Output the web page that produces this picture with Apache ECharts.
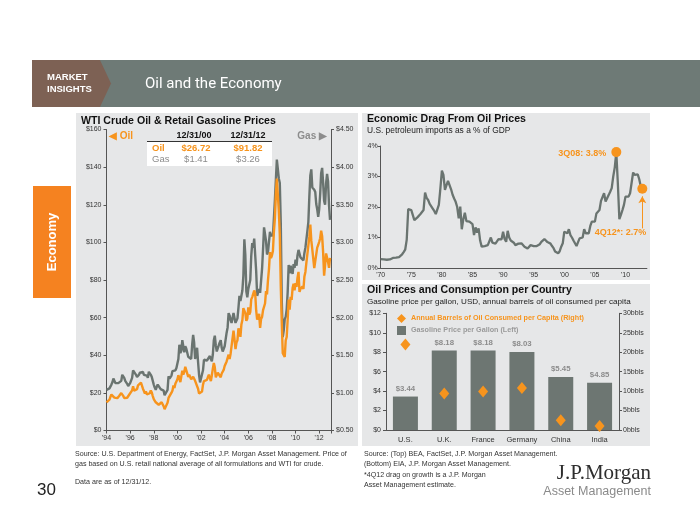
<!DOCTYPE html>
<html><head><meta charset="utf-8">
<script src="https://cdn.jsdelivr.net/npm/echarts/dist/echarts.min.js"></script>
<style>html,body{margin:0;padding:0;background:#fff;}#c{width:700px;height:525px;}</style>
</head><body><div id="c"></div>
<script>
// ---------- DATA ----------
const oilStartYear = 1994; // monthly series start (Jan 1994)
const wtiOil = [
15.0,14.8,14.7,16.4,17.9,19.1,19.7,18.4,17.5,17.7,18.1,17.2,
18.0,18.5,18.6,19.9,19.7,18.4,17.3,17.9,18.0,17.4,18.0,19.0,
18.9,19.1,21.3,23.5,21.2,20.4,21.3,22.0,24.0,24.9,23.7,25.4,
25.2,22.2,21.0,19.7,20.8,19.2,19.6,19.9,19.8,21.3,20.2,18.3,
16.7,16.1,15.0,15.4,14.9,13.7,14.2,13.4,15.0,14.4,12.9,11.3,
12.5,12.0,14.7,17.3,17.8,17.9,20.1,21.3,23.9,22.6,25.0,26.1,
27.2,29.4,29.9,25.7,28.8,31.8,29.7,31.3,33.9,33.1,34.4,28.5,
29.6,29.6,27.2,27.4,28.6,27.6,26.4,27.4,26.2,22.2,19.6,19.3,
19.7,20.7,24.4,26.3,27.0,25.5,26.9,28.4,29.7,28.9,26.3,29.4,
32.9,35.9,33.6,28.3,28.1,30.7,30.8,31.6,28.3,30.3,31.1,32.2,
34.3,34.7,36.7,36.7,40.3,38.0,40.7,44.9,45.9,53.1,48.5,43.3,
46.8,48.0,54.3,53.0,49.8,56.3,58.7,65.0,65.6,62.4,58.3,59.4,
65.5,61.6,62.9,69.7,70.9,70.9,74.4,73.0,63.8,58.9,59.1,62.0,
54.5,59.3,60.4,64.0,63.5,67.5,74.1,72.4,79.9,85.8,94.8,91.7,
93.0,95.4,105.5,112.6,125.4,133.9,133.4,116.7,104.1,76.6,57.3,41.1,
41.7,39.1,47.9,49.7,59.0,69.6,64.2,71.1,69.4,75.7,78.0,74.5,
78.3,76.4,81.2,84.3,73.7,75.3,76.3,76.6,75.2,81.9,84.3,89.2,
89.2,88.6,102.9,109.5,100.9,96.3,97.3,86.3,85.5,86.3,97.2,98.6,
100.3,102.2,106.2,103.3,94.7,82.3,87.9,94.1,94.5,89.5,86.5,91.8
];
const retailGas = [
1.04,1.03,1.03,1.06,1.08,1.11,1.14,1.19,1.16,1.13,1.14,1.12,
1.13,1.12,1.12,1.16,1.24,1.25,1.20,1.16,1.14,1.12,1.09,1.10,
1.13,1.14,1.20,1.30,1.32,1.28,1.24,1.21,1.22,1.24,1.27,1.28,
1.29,1.28,1.24,1.23,1.23,1.23,1.20,1.28,1.28,1.24,1.21,1.16,
1.11,1.07,1.04,1.08,1.11,1.10,1.09,1.05,1.03,1.05,1.03,0.97,
0.98,0.96,1.04,1.22,1.19,1.17,1.23,1.29,1.30,1.28,1.30,1.33,
1.35,1.45,1.64,1.53,1.56,1.70,1.62,1.54,1.62,1.59,1.60,1.48,
1.47,1.49,1.45,1.64,1.77,1.67,1.45,1.46,1.60,1.41,1.24,1.14,
1.15,1.15,1.30,1.44,1.44,1.42,1.43,1.43,1.43,1.49,1.45,1.42,
1.51,1.70,1.76,1.63,1.55,1.53,1.56,1.67,1.70,1.60,1.55,1.54,
1.62,1.71,1.80,1.87,2.06,2.03,1.97,1.93,1.94,2.06,2.05,1.93,
1.91,1.99,2.13,2.29,2.22,2.24,2.36,2.56,3.04,2.83,2.35,2.27,
2.38,2.36,2.50,2.82,2.99,2.93,3.05,3.03,2.62,2.29,2.29,2.38,
2.33,2.35,2.65,2.91,3.20,3.11,3.02,2.84,2.87,2.85,3.14,3.08,
3.11,3.08,3.32,3.56,3.83,4.10,4.11,3.85,3.79,3.25,2.23,1.74,
1.83,1.98,2.01,2.11,2.34,2.70,2.59,2.69,2.62,2.58,2.71,2.66,
2.77,2.69,2.83,2.90,2.89,2.80,2.79,2.78,2.76,2.86,2.93,3.04,
3.15,3.27,3.61,3.89,3.97,3.73,3.71,3.70,3.67,3.51,3.44,3.34,
3.44,3.64,3.92,3.99,3.79,3.55,3.50,3.78,3.91,3.81,3.49,3.30
];
const tableHeaders = ['12/31/00', '12/31/12'];
const tableOil = ['$26.72', '$91.82'];
const tableGas = ['$1.41', '$3.26'];

const dragStartYear = 1970; // quarterly series start (1Q70)
const dragPct = [
0.29,0.28,0.28,0.28, 0.27,0.27,0.28,0.27, 0.33,0.35,0.34,0.35, 0.36,0.40,0.45,0.52,
0.60,0.92,1.93,1.94, 1.90,1.90,1.57,1.60, 1.66,1.70,1.77,1.82, 1.90,2.47,2.30,2.23,
2.10,2.04,1.95,1.87, 1.77,1.81,2.07,2.60, 3.19,3.05,2.56,2.72, 2.86,2.80,2.58,2.40,
2.28,2.17,2.00,1.63, 2.01,1.27,1.60,1.81, 1.54,1.55,1.52,1.50, 1.44,1.08,1.33,1.16,
1.30,0.90,0.70,0.70, 0.72,0.70,0.75,0.80, 1.00,0.83,0.82,0.80, 0.78,0.95,0.92,0.94,
1.19,0.95,0.86,1.22, 1.00,0.90,0.85,0.83, 0.75,0.78,0.80,0.78, 0.81,0.78,0.70,0.68,
0.64,0.66,0.75,0.79, 0.72,0.74,0.72,0.74, 0.78,0.86,0.85,0.95, 1.00,0.85,0.81,0.80,
0.72,0.65,0.54,0.52, 0.48,0.55,0.70,0.81, 1.19,1.14,1.14,1.27, 1.08,1.00,0.90,0.86,
0.72,0.85,0.97,1.00, 1.00,1.27,1.14,1.14, 1.14,1.38,1.52,1.50, 1.52,1.79,1.85,1.90,
2.20,2.18,2.45,2.18, 2.18,2.39,2.50,2.62, 3.00,3.30,3.80,2.78, 1.60,1.74,1.90,2.07,
2.34,2.30,2.34,2.45, 2.45,3.13,3.05,3.10, 3.07,2.91,2.67,2.60
];
const dragCallouts = [
  { index: 154, text: '3Q08: 3.8%' },
  { index: 171, text: '4Q12*: 2.7%' }
];

const countries = ['U.S.', 'U.K.', 'France', 'Germany', 'China', 'India'];
const gasPricePerGallon = [3.44, 8.18, 8.18, 8.03, 5.45, 4.85];
const barrelsPerCapita = [22.0, 9.4, 9.9, 10.8, 2.5, 1.0];

// ---------- STYLE ----------
const ORANGE = '#f7941d';
const GRAY = '#6a7470';
const FONT = 'Liberation Sans, Arial, sans-serif';
const AX = '#333';

const chart = echarts.init(document.getElementById('c'), null, {renderer: 'canvas'});

const oilSeries = wtiOil.map((v, i) => [oilStartYear + i / 12, v]);
const gasSeries = retailGas.map((v, i) => [oilStartYear + i / 12, v]);
const dragSeries = dragPct.map((v, i) => [dragStartYear + i / 4, v]);
const dragT = i => dragStartYear + dragCallouts[i].index / 4;
const dragV = i => dragPct[dragCallouts[i].index];

function txt(x, y, text, o) {
  return Object.assign({type: 'text', x: x, y: y, z: 20,
    style: Object.assign({text: text, fill: '#333', font: '9px ' + FONT, textVerticalAlign: 'middle'}, o || {})});
}
const bold = (s) => 'bold ' + s + 'px ' + FONT;
const reg = (s) => s + 'px ' + FONT;

const graphics = [
  // header
  {type: 'rect', z: -10, shape: {x: 32, y: 60, width: 668, height: 47}, style: {fill: '#6e7a76'}},
  {type: 'polygon', z: -9, shape: {points: [[32,60],[100,60],[111,83.5],[100,107],[32,107]]}, style: {fill: '#7d6154'}},
  txt(47, 77, 'MARKET', {fill: '#fff', font: bold(9.5)}),
  txt(47, 89, 'INSIGHTS', {fill: '#fff', font: bold(9.5)}),
  txt(145, 84, 'Oil and the Economy', {fill: '#fff', font: '15px Roboto, ' + FONT}),
  // side tab
  {type: 'rect', z: -10, shape: {x: 33, y: 186, width: 38, height: 112}, style: {fill: '#f58220'}},
  {type: 'text', x: 52, y: 242, rotation: Math.PI / 2, z: 20,
    style: {text: 'Economy', fill: '#fff', font: bold(13), textAlign: 'center', textVerticalAlign: 'middle'}},
  // panels
  {type: 'rect', z: -10, shape: {x: 76, y: 113, width: 282, height: 333}, style: {fill: '#e6e7e8'}},
  {type: 'rect', z: -10, shape: {x: 362, y: 113, width: 288, height: 167}, style: {fill: '#e6e7e8'}},
  {type: 'rect', z: -10, shape: {x: 362, y: 284, width: 288, height: 162}, style: {fill: '#e6e7e8'}},
  // left panel titles
  txt(81, 121, 'WTI Crude Oil & Retail Gasoline Prices', {fill: '#111', font: bold(10.6)}),
  txt(109, 136, '\u25C0 Oil', {fill: ORANGE, font: bold(10)}),
  txt(327, 136, 'Gas \u25B6', {fill: '#8c8c8c', font: bold(10), textAlign: 'right'}),
  // table
  {type: 'rect', z: -5, shape: {x: 147, y: 142, width: 125, height: 24}, style: {fill: '#fff'}},
  {type: 'line', z: 5, shape: {x1: 147, y1: 141.5, x2: 272, y2: 141.5}, style: {stroke: '#333', lineWidth: 1}},
  txt(194, 135.5, tableHeaders[0], {fill: '#111', font: bold(9), textAlign: 'center'}),
  txt(248, 135.5, tableHeaders[1], {fill: '#111', font: bold(9), textAlign: 'center'}),
  txt(152, 148.5, 'Oil', {fill: ORANGE, font: bold(9.5)}),
  txt(196, 148.5, tableOil[0], {fill: ORANGE, font: bold(9.5), textAlign: 'center'}),
  txt(248, 148.5, tableOil[1], {fill: ORANGE, font: bold(9.5), textAlign: 'center'}),
  txt(152, 159.5, 'Gas', {fill: '#8c8c8c', font: reg(9.5)}),
  txt(196, 159.5, tableGas[0], {fill: '#8c8c8c', font: reg(9.5), textAlign: 'center'}),
  txt(248, 159.5, tableGas[1], {fill: '#8c8c8c', font: reg(9.5), textAlign: 'center'}),
  // right panel titles
  txt(367, 119, 'Economic Drag From Oil Prices', {fill: '#111', font: bold(10.6)}),
  txt(367, 131, 'U.S. petroleum imports as a % of GDP', {fill: '#222', font: reg(8.4)}),
  txt(367, 290, 'Oil Prices and Consumption per Country', {fill: '#111', font: bold(10.6)}),
  txt(367, 302, 'Gasoline price per gallon, USD, annual barrels of oil consumed per capita', {fill: '#222', font: reg(8.1)}),
  // footnotes
  txt(75, 454, 'Source: U.S. Department of Energy, FactSet, J.P. Morgan Asset Management. Price of', {font: reg(7.1)}),
  txt(75, 464.5, 'gas based on U.S. retail national average of all formulations and WTI for crude.', {font: reg(7.1)}),
  txt(75, 482, 'Data are as of 12/31/12.', {font: reg(7.1)}),
  txt(364, 454, 'Source: (Top) BEA, FactSet, J.P. Morgan Asset Management.', {font: reg(7.1)}),
  txt(364, 464.5, '(Bottom) EIA, J.P. Morgan Asset Management.', {font: reg(7.1)}),
  txt(364, 475, '*4Q12 drag on growth is a J.P. Morgan', {font: reg(7.1)}),
  txt(364, 485.5, 'Asset Management estimate.', {font: reg(7.1)}),
  txt(37, 490, '30', {fill: '#222', font: reg(17)}),
  txt(651, 473, 'J.P.Morgan', {fill: '#2e2e2e', font: '21px Liberation Serif, serif', textAlign: 'right'}),
  txt(651, 492, 'Asset Management', {fill: '#8a8a8a', font: reg(12.5), textAlign: 'right'})
];

const axisLine = {show: true, lineStyle: {color: '#555', width: 1}};
const axisTick = {show: true, length: 3, lineStyle: {color: '#555'}};
const lbl = (extra) => Object.assign({color: AX, fontSize: 7, fontFamily: FONT}, extra || {});

const option = {
  animation: false,
  textStyle: {fontFamily: FONT},
  graphic: {elements: graphics},
  legend: {
    left: 392, top: 309, orient: 'vertical', itemGap: 3, itemWidth: 9, itemHeight: 9,
    textStyle: {fontSize: 7.2, fontWeight: 'bold', fontFamily: FONT},
    data: [
      {name: 'Annual Barrels of Oil Consumed per Capita (Right)', icon: 'diamond', textStyle: {color: ORANGE}},
      {name: 'Gasoline Price per Gallon (Left)', icon: 'rect', textStyle: {color: '#9a9a9a'}}
    ]
  },
  grid: [
    {left: 106.5, top: 129.5, width: 224.5, height: 301},
    {left: 380.7, top: 146, width: 266.2, height: 122},
    {left: 386, top: 313.3, width: 233, height: 116.7}
  ],
  xAxis: [
    {type: 'value', gridIndex: 0, min: 1994, max: 2013, interval: 2, axisLine: axisLine, axisTick: axisTick, splitLine: {show: false},
      axisLabel: lbl({margin: 4, formatter: v => (v % 2 === 0 && v < 2013) ? "'" + String(v).slice(2) : ''})},
    {type: 'value', gridIndex: 1, min: 1970, max: 2013.5, interval: 5, axisLine: axisLine, axisTick: {show: false}, splitLine: {show: false},
      axisLabel: lbl({margin: 4, formatter: v => (v % 5 === 0) ? "'" + String(v).slice(2) : ''})},
    {type: 'category', gridIndex: 2, data: countries, axisLine: axisLine, axisTick: {show: false},
      axisLabel: lbl({fontSize: 7.5, margin: 6, interval: 0})}
  ],
  yAxis: [
    {type: 'value', gridIndex: 0, min: 0, max: 160, interval: 20, axisLine: axisLine, axisTick: axisTick, splitLine: {show: false},
      axisLabel: lbl({margin: 5, formatter: v => '$' + v})},
    {type: 'value', gridIndex: 0, position: 'right', min: 0.5, max: 4.5, interval: 0.5, axisLine: axisLine, axisTick: axisTick, splitLine: {show: false},
      axisLabel: lbl({margin: 5, formatter: v => '$' + v.toFixed(2)})},
    {type: 'value', gridIndex: 1, min: 0, max: 4, interval: 1, axisLine: axisLine, axisTick: axisTick, splitLine: {show: false},
      axisLabel: lbl({margin: 3, formatter: v => v + '%'})},
    {type: 'value', gridIndex: 2, min: 0, max: 12, interval: 2, axisLine: axisLine, axisTick: axisTick, splitLine: {show: false},
      axisLabel: lbl({margin: 5, formatter: v => '$' + v})},
    {type: 'value', gridIndex: 2, position: 'right', min: 0, max: 30, interval: 5, axisLine: axisLine, axisTick: axisTick, splitLine: {show: false},
      axisLabel: lbl({margin: 4, formatter: v => v + 'bbls'})}
  ],
  series: [
    {name: 'Gas', type: 'line', xAxisIndex: 0, yAxisIndex: 1, data: gasSeries, showSymbol: false,
      lineStyle: {color: GRAY, width: 2.4}, itemStyle: {color: GRAY}, z: 3},
    {name: 'Oil', type: 'line', xAxisIndex: 0, yAxisIndex: 0, data: oilSeries, showSymbol: false,
      lineStyle: {color: ORANGE, width: 2.4}, itemStyle: {color: ORANGE}, z: 4},
    {name: 'Drag', type: 'line', xAxisIndex: 1, yAxisIndex: 2, data: dragSeries, showSymbol: false,
      lineStyle: {color: GRAY, width: 2.3}, itemStyle: {color: GRAY}, z: 3,
      markLine: {silent: true, symbol: ['none', 'arrow'], symbolSize: [6, 7],
        lineStyle: {color: ORANGE, width: 1, type: 'solid'}, label: {show: false},
        data: [[{coord: [dragT(1), dragV(1) - 1.3]}, {coord: [dragT(1), dragV(1) - 0.25]}]]}},
    {name: 'Callouts', type: 'scatter', xAxisIndex: 1, yAxisIndex: 2, symbolSize: 10, z: 5,
      itemStyle: {color: ORANGE, opacity: 1},
      data: [
        {value: [dragT(0), dragV(0)], label: {show: true, position: 'left', distance: 5, offset: [0, 1],
          formatter: dragCallouts[0].text, color: ORANGE, fontWeight: 'bold', fontSize: 9}},
        {value: [dragT(1), dragV(1)], label: {show: true, position: 'bottom', distance: 34, align: 'right', offset: [4, 0],
          formatter: dragCallouts[1].text, color: ORANGE, fontWeight: 'bold', fontSize: 9}}
      ]},
    {name: 'Gasoline Price per Gallon (Left)', type: 'bar', xAxisIndex: 2, yAxisIndex: 3, data: gasPricePerGallon,
      barWidth: 25, itemStyle: {color: '#6d7672'},
      label: {show: true, position: 'top', distance: 4, color: '#8c8c8c', fontSize: 7.8, fontWeight: 'bold',
        formatter: p => '$' + p.value.toFixed(2)}},
    {name: 'Annual Barrels of Oil Consumed per Capita (Right)', type: 'scatter', xAxisIndex: 2, yAxisIndex: 4,
      data: barrelsPerCapita, symbol: 'diamond', symbolSize: [10, 12], itemStyle: {color: ORANGE, opacity: 1}, z: 5}
  ]
};
chart.setOption(option);
</script>
</body></html>
